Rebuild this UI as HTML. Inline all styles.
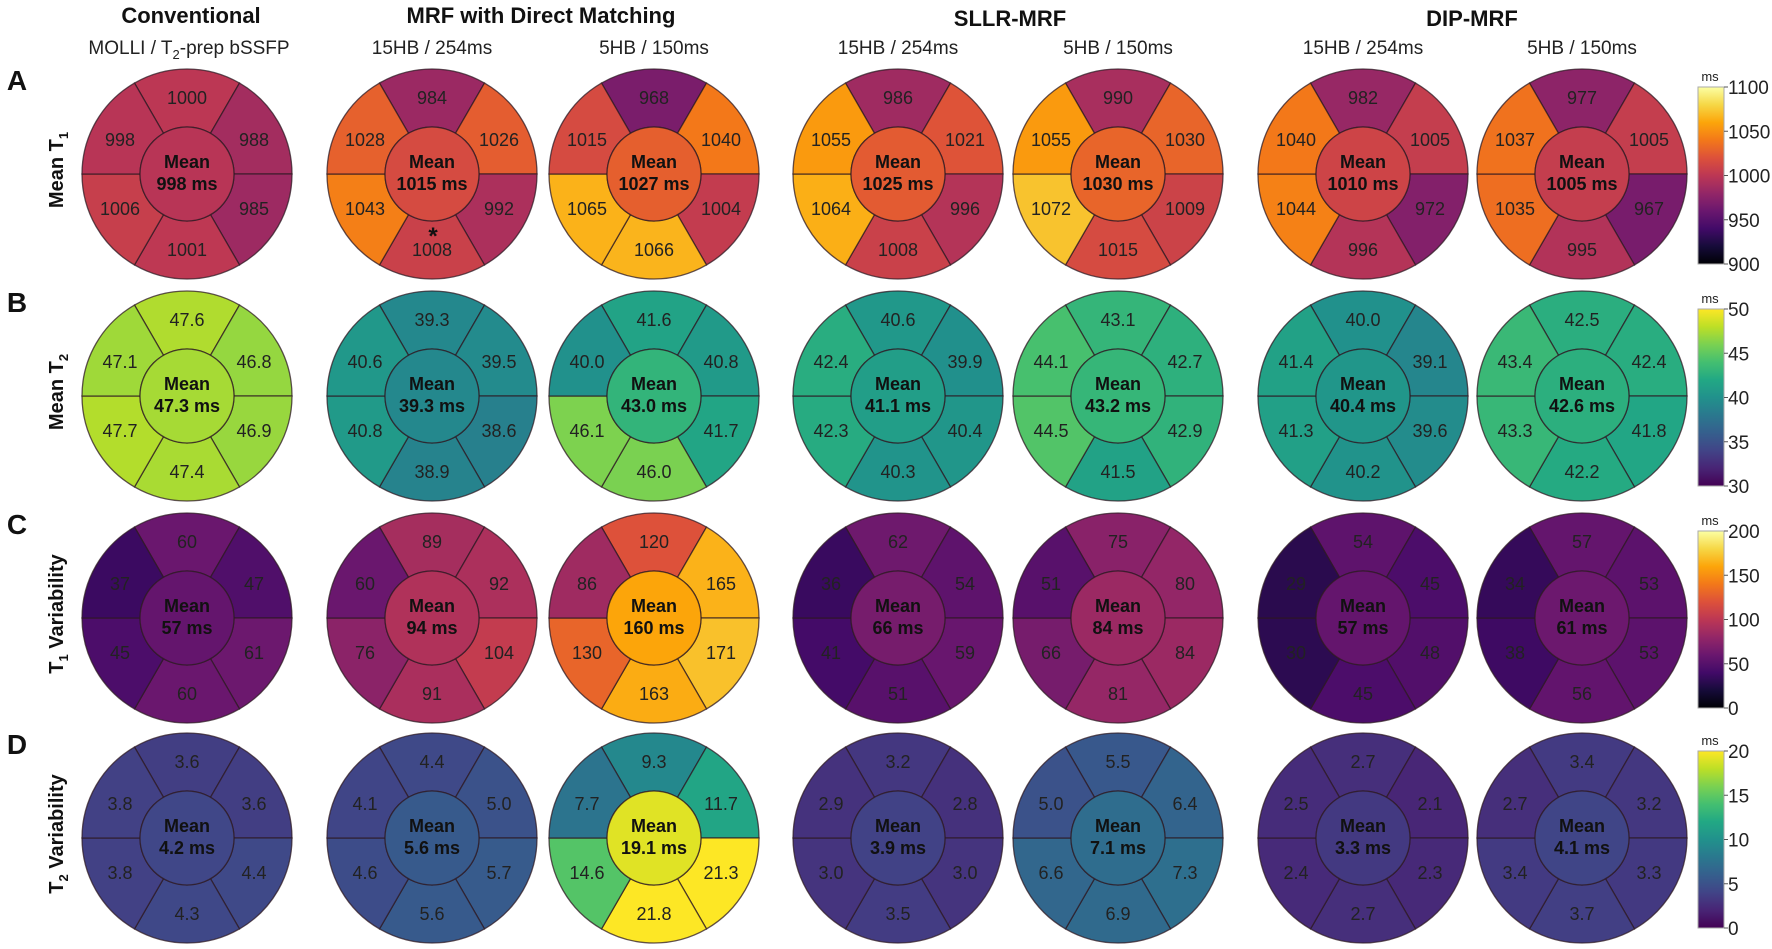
<!DOCTYPE html>
<html>
<head>
<meta charset="utf-8">
<style>
  html,body{margin:0;padding:0;background:#fff;}
  svg{display:block;font-family:"Liberation Sans",Arial,sans-serif;}
</style>
</head>
<body>
<svg id="fig" width="1772" height="949" viewBox="0 0 1772 949" xmlns="http://www.w3.org/2000/svg">
  <g font-weight="bold" font-size="22" text-anchor="middle" fill="#111">
    <text x="191" y="23">Conventional</text>
    <text x="541" y="23">MRF with Direct Matching</text>
    <text x="1010" y="26">SLLR-MRF</text>
    <text x="1472" y="26">DIP-MRF</text>
  </g>
  <g font-size="19" text-anchor="middle" fill="#222">
    <text x="189" y="54">MOLLI / T<tspan font-size="13" dy="5">2</tspan><tspan dy="-5">-prep bSSFP</tspan></text>
    <text x="432" y="54">15HB / 254ms</text>
    <text x="654" y="54">5HB / 150ms</text>
    <text x="898" y="54">15HB / 254ms</text>
    <text x="1118" y="54">5HB / 150ms</text>
    <text x="1363" y="54">15HB / 254ms</text>
    <text x="1582" y="54">5HB / 150ms</text>
  </g>
  <g id="plots"></g>
</svg>
<script>
// Column / row layout
const colCenters = [187, 432, 654, 898, 1118, 1363, 1582];
const rowCenters = [174, 396, 618, 838];
// Row metadata (data)
const rowLetters = ["A", "B", "C", "D"];
const rowTitles = [["Mean T", "1", ""], ["Mean T", "2", ""], ["T", "1", " Variability"], ["T", "2", " Variability"]];
const rowMin = [900, 30, 0, 0];
const rowMax = [1100, 50, 200, 20];
const rowTicks = [[900, 950, 1000, 1050, 1100], [30, 35, 40, 45, 50], [0, 50, 100, 150, 200], [0, 5, 10, 15, 20]];
const rowDecimals = [0, 1, 0, 1];
const rowCmap = ["inferno", "viridis", "inferno", "viridis"];
// Segment values per plot: [top, upperRight, lowerRight, bottom, lowerLeft, upperLeft, mean]
const meanT1 = [
  [1000, 988, 985, 1001, 1006, 998, 998],
  [984, 1026, 992, 1008, 1043, 1028, 1015],
  [968, 1040, 1004, 1066, 1065, 1015, 1027],
  [986, 1021, 996, 1008, 1064, 1055, 1025],
  [990, 1030, 1009, 1015, 1072, 1055, 1030],
  [982, 1005, 972, 996, 1044, 1040, 1010],
  [977, 1005, 967, 995, 1035, 1037, 1005]
];
const meanT2 = [
  [47.6, 46.8, 46.9, 47.4, 47.7, 47.1, 47.3],
  [39.3, 39.5, 38.6, 38.9, 40.8, 40.6, 39.3],
  [41.6, 40.8, 41.7, 46.0, 46.1, 40.0, 43.0],
  [40.6, 39.9, 40.4, 40.3, 42.3, 42.4, 41.1],
  [43.1, 42.7, 42.9, 41.5, 44.5, 44.1, 43.2],
  [40.0, 39.1, 39.6, 40.2, 41.3, 41.4, 40.4],
  [42.5, 42.4, 41.8, 42.2, 43.3, 43.4, 42.6]
];
const varT1 = [
  [60, 47, 61, 60, 45, 37, 57],
  [89, 92, 104, 91, 76, 60, 94],
  [120, 165, 171, 163, 130, 86, 160],
  [62, 54, 59, 51, 41, 36, 66],
  [75, 80, 84, 81, 66, 51, 84],
  [54, 45, 48, 45, 30, 29, 57],
  [57, 53, 53, 56, 38, 34, 61]
];
const varT2 = [
  [3.6, 3.6, 4.4, 4.3, 3.8, 3.8, 4.2],
  [4.4, 5.0, 5.7, 5.6, 4.6, 4.1, 5.6],
  [9.3, 11.7, 21.3, 21.8, 14.6, 7.7, 19.1],
  [3.2, 2.8, 3.0, 3.5, 3.0, 2.9, 3.9],
  [5.5, 6.4, 7.3, 6.9, 6.6, 5.0, 7.1],
  [2.7, 2.1, 2.3, 2.7, 2.4, 2.5, 3.3],
  [3.4, 3.2, 3.3, 3.7, 3.4, 2.7, 4.1]
];
const rowData = [meanT1, meanT2, varT1, varT2];

const INFERNO = ["#000004","#160b39","#420a68","#6a176e","#932667","#bc3754","#dd513a","#f37819","#fca50a","#f6d746","#fcffa4"];
const VIRIDIS = ["#440154","#482475","#414487","#355f8d","#2a788e","#21918c","#22a884","#44bf70","#7ad151","#bddf26","#fde725"];
function hex2rgb(h){return [parseInt(h.substr(1,2),16),parseInt(h.substr(3,2),16),parseInt(h.substr(5,2),16)];}
function cmap(name, t){
  const s = name === "inferno" ? INFERNO : VIRIDIS;
  t = Math.max(0, Math.min(1, t));
  const p = t * (s.length - 1), i = Math.min(Math.floor(p), s.length - 2), f = p - i;
  const a = hex2rgb(s[i]), b = hex2rgb(s[i+1]);
  return "rgb(" + a.map((v,k)=>Math.round(v + (b[k]-v)*f)).join(",") + ")";
}
function colorScale(r, v){ return cmap(rowCmap[r], (v - rowMin[r]) / (rowMax[r] - rowMin[r])); }

const NS = "http://www.w3.org/2000/svg";
const root = document.getElementById("plots");
function mk(tag, attrs, parent){
  const e = document.createElementNS(NS, tag);
  for (const k in attrs) e.setAttribute(k, attrs[k]);
  parent.appendChild(e);
  return e;
}
const R = 105, RI = 47;
const STROKE = "rgba(45,25,35,0.75)";
// segment angle ranges (degrees, SVG: 0 = right, clockwise positive) for top, UR, LR, bottom, LL, UL
const segAngles = [[-120,-60],[-60,0],[0,60],[60,120],[120,180],[180,240]];
const labelOffsets = [[0,-76],[67,-34],[67,35],[0,76],[-67,35],[-67,-34]];
const segNames = ["top","upper-right","lower-right","bottom","lower-left","upper-left"];
function pt(cx, cy, r, deg){ const a = deg*Math.PI/180; return [cx + r*Math.cos(a), cy + r*Math.sin(a)]; }

rowData.forEach((plots, r) => {
  const cy = rowCenters[r];
  // row letter
  const L = mk("text", {x: 17, y: cy - 84, "font-size": 28, "font-weight": "bold", "text-anchor": "middle", fill: "#111"}, root);
  
  
  L.textContent = rowLetters[r];
  // row title (rotated)
  const T = mk("text", {x: 0, y: 0, "font-size": 20, "font-weight": "bold", "text-anchor": "middle", fill: "#111", transform: "translate(63," + (cy - 4) + ") rotate(-90)"}, root);
  
  
  const t0 = document.createElementNS(NS, "tspan"); t0.textContent = rowTitles[r][0]; T.appendChild(t0);
  const t1 = document.createElementNS(NS, "tspan"); t1.setAttribute("font-size", "13"); t1.setAttribute("dy", "5"); t1.textContent = rowTitles[r][1]; T.appendChild(t1);
  const t2 = document.createElementNS(NS, "tspan"); t2.setAttribute("dy", "-5"); t2.textContent = rowTitles[r][2] || "\u200b"; T.appendChild(t2);

  plots.forEach((vals, c) => {
    const cx = colCenters[c];
    const g = mk("g", {}, root);
    
    
    for (let s = 0; s < 6; s++){
      const [a0, a1] = segAngles[s];
      const o0 = pt(cx, cy, R, a0), o1 = pt(cx, cy, R, a1), i1 = pt(cx, cy, RI, a1), i0 = pt(cx, cy, RI, a0);
      const d = "M" + o0 + " A" + R + "," + R + " 0 0 1 " + o1 + " L" + i1 + " A" + RI + "," + RI + " 0 0 0 " + i0 + " Z";
      const p = mk("path", {d: d, fill: colorScale(r, vals[s]), stroke: STROKE, "stroke-width": 1.3}, g);
      
      
      const tx = mk("text", {x: cx + labelOffsets[s][0], y: cy + labelOffsets[s][1] + 6, "font-size": 18, "text-anchor": "middle", fill: "#222"}, g);
      
      
      tx.textContent = vals[s].toFixed(rowDecimals[r]);
    }
    const ci = mk("circle", {cx: cx, cy: cy, r: RI, fill: colorScale(r, vals[6]), stroke: STROKE, "stroke-width": 1.3}, g);
    
    
    const m1 = mk("text", {x: cx, y: cy - 6, "font-size": 18, "font-weight": "bold", "text-anchor": "middle", fill: "#111"}, g);
    
    
    m1.textContent = "Mean";
    const m2 = mk("text", {x: cx, y: cy + 16, "font-size": 18, "font-weight": "bold", "text-anchor": "middle", fill: "#111"}, g);
    
    
    m2.textContent = vals[6].toFixed(rowDecimals[r]) + " ms";
    if (r === 0 && c === 1){
      const ast = mk("text", {x: cx + 1, y: cy + 70, "font-size": 24, "font-weight": "bold", "text-anchor": "middle", fill: "#111"}, g);
      
      
      ast.textContent = "*";
    }
  });

  // colorbar
  const top = cy - 87, bot = cy + 90, bx = 1698, bw = 26;
  const gid = "grad" + r;
  const defs = mk("defs", {}, root);
  const lg = mk("linearGradient", {id: gid, x1: 0, y1: 1, x2: 0, y2: 0}, defs);
  for (let k = 0; k <= 20; k++){
    mk("stop", {offset: (k/20), "stop-color": cmap(rowCmap[r], k/20)}, lg);
  }
  const cb = mk("g", {}, root);
  
  
  const rect = mk("rect", {x: bx, y: top, width: bw, height: bot - top, fill: "url(#" + gid + ")", stroke: "#aaa", "stroke-width": 1}, cb);
  
  
  const unit = mk("text", {x: bx + 12, y: top - 6, "font-size": 13, "text-anchor": "middle", fill: "#222"}, cb);
  
  
  unit.textContent = "ms";
  rowTicks[r].forEach(tv => {
    const ty = bot - (tv - rowMin[r]) / (rowMax[r] - rowMin[r]) * (bot - top);
    mk("line", {x1: bx + bw, x2: bx + bw + 4, y1: ty, y2: ty, stroke: "#555", "stroke-width": 1}, cb);
    const tl = mk("text", {x: bx + bw + 4, y: ty + 7, "font-size": 19, fill: "#222"}, cb);
    
    
    tl.textContent = String(tv);
  });
});
</script>
</body>
</html>
